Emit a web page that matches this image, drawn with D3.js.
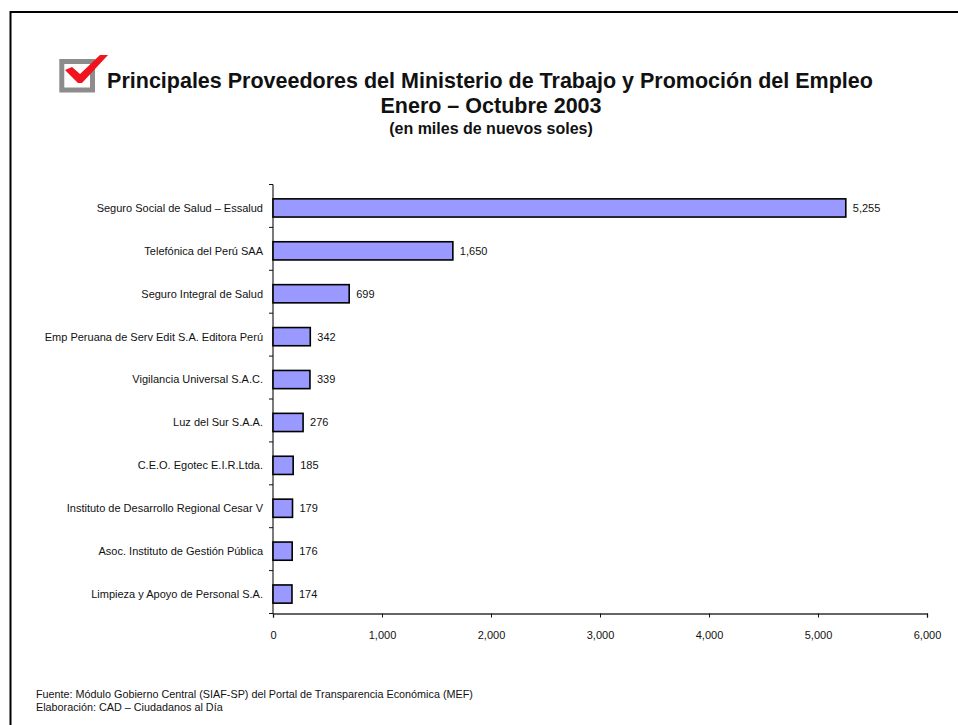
<!DOCTYPE html>
<html>
<head>
<meta charset="utf-8">
<script src="https://cdn.jsdelivr.net/npm/d3@7"></script>
<style>
  html, body { margin: 0; padding: 0; background: #fff; }
  svg { display: block; }
  text { font-family: "Liberation Sans", Arial, sans-serif; fill: #111; }
</style>
</head>
<body>
<div id="root"></div>
<script>
const proveedores = [
  "Seguro Social de Salud – Essalud",
  "Telefónica del Perú SAA",
  "Seguro Integral de Salud",
  "Emp Peruana de Serv Edit S.A. Editora Perú",
  "Vigilancia Universal S.A.C.",
  "Luz del Sur S.A.A.",
  "C.E.O. Egotec E.I.R.Ltda.",
  "Instituto de Desarrollo Regional Cesar V",
  "Asoc. Instituto de Gestión Pública",
  "Limpieza y Apoyo de Personal S.A."
];
const montos = [5255, 1650, 699, 342, 339, 276, 185, 179, 176, 174];
const xTicks = [0, 1000, 2000, 3000, 4000, 5000, 6000];
const titulos = [
  "Principales Proveedores del Ministerio de Trabajo y Promoción del Empleo",
  "Enero – Octubre 2003",
  "(en miles de nuevos soles)"
];
const notas = [
  "Fuente: Módulo Gobierno Central (SIAF-SP) del Portal de Transparencia Económica (MEF)",
  "Elaboración: CAD – Ciudadanos al Día"
];

const width = 958, height = 725;
const fmt = d3.format(",");

const svg = d3.select("#root").append("svg")
  .attr("width", width)
  .attr("height", height);

// frame only has left and top sides, the rest is cropped in the reference
svg.append("path")
  .attr("d", "M10.5,725V12H958")
  .attr("fill", "none")
  .attr("stroke", "#000")
  .attr("stroke-width", 2);

// check box icon
svg.append("rect")
  .attr("x", 61.8).attr("y", 61.5)
  .attr("width", 30.7).attr("height", 28.5)
  .attr("fill", "#fff")
  .attr("stroke", "#8c8c8c")
  .attr("stroke-width", 5);
svg.append("path")
  .attr("d", "M65,70L72,67L80,74L100,55L108,55L82,83L78,83Z")
  .attr("fill", "#f0141e");

// titles
svg.append("text")
  .attr("x", 490).attr("y", 88)
  .attr("text-anchor", "middle")
  .attr("font-size", 21.5).attr("font-weight", "bold")
  .text(titulos[0]);
svg.append("text")
  .attr("x", 491).attr("y", 113)
  .attr("text-anchor", "middle")
  .attr("font-size", 21.5).attr("font-weight", "bold")
  .text(titulos[1]);
svg.append("text")
  .attr("x", 491).attr("y", 134)
  .attr("text-anchor", "middle")
  .attr("font-size", 16).attr("font-weight", "bold")
  .text(titulos[2]);

// scales, bars sit about 2px under the middle of their tick interval
const x = d3.scaleLinear().domain([0, 6000]).range([273, 927]);
const y = d3.scaleBand().domain(proveedores).range([186.5, 615.5]).paddingInner(0.576).paddingOuter(0.288);

// axes
const xAxis = svg.append("g")
  .attr("transform", "translate(0,613.5)")
  .call(d3.axisBottom(x).tickValues(xTicks).tickFormat(fmt).tickSize(4).tickPadding(14));
xAxis.select(".domain").attr("stroke", "#333").attr("stroke-width", 1.3);
xAxis.selectAll("line").attr("stroke", "#111");
xAxis.selectAll("text").attr("font-size", 11).attr("font-family", "Liberation Sans");

const yTickPos = d3.range(proveedores.length + 1).map(i => 184.5 + i * y.step());
const yAxisG = svg.append("g");
yAxisG.append("line")
  .attr("x1", 273).attr("x2", 273)
  .attr("y1", 184.5).attr("y2", 613.5)
  .attr("stroke", "#333").attr("stroke-width", 1.3);
yAxisG.selectAll("line.tick").data(yTickPos).enter().append("line")
  .attr("class", "tick")
  .attr("x1", 269).attr("x2", 273)
  .attr("y1", d => d).attr("y2", d => d)
  .attr("stroke", "#111");
yAxisG.selectAll("text").data(proveedores).enter().append("text")
  .attr("x", 263)
  .attr("y", d => y(d) + y.bandwidth() / 2)
  .attr("dy", "0.35em")
  .attr("text-anchor", "end")
  .attr("font-size", 11)
  .text(d => d);

// bars
svg.append("g").selectAll("rect")
  .data(montos)
  .enter().append("rect")
  .attr("x", x(0))
  .attr("y", (d, i) => y(proveedores[i]))
  .attr("width", d => x(d) - x(0))
  .attr("height", y.bandwidth())
  .attr("fill", "#9999ff")
  .attr("stroke", "#000")
  .attr("stroke-width", 1.6);

// value labels
svg.append("g").selectAll("text")
  .data(montos)
  .enter().append("text")
  .attr("x", d => x(d) + 7)
  .attr("y", (d, i) => y(proveedores[i]) + y.bandwidth() / 2)
  .attr("dy", "0.35em")
  .attr("font-size", 11)
  .text(d => fmt(d));

// footnotes
svg.selectAll("text.nota").data(notas).enter().append("text")
  .attr("class", "nota")
  .attr("x", 36)
  .attr("y", (d, i) => 697.5 + i * 13)
  .attr("font-size", 10.8)
  .text(d => d);
</script>
</body>
</html>
